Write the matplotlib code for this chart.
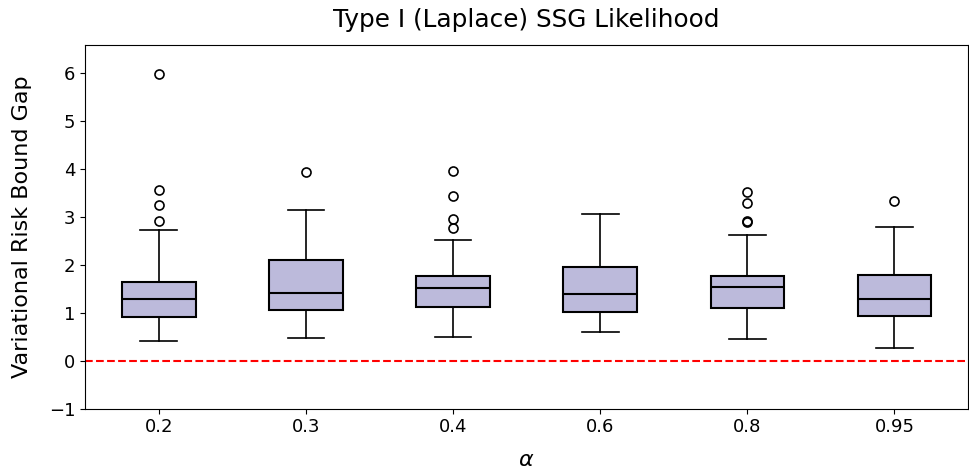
import matplotlib
matplotlib.use("Agg")
import matplotlib.pyplot as plt

# alpha levels on the x axis
alphas = ["0.2", "0.3", "0.4", "0.6", "0.8", "0.95"]

# five-number summaries of the risk bound gap for each alpha
whisker_low = [0.40, 0.48, 0.49, 0.60, 0.44, 0.26]
q1 = [0.90, 1.06, 1.12, 1.02, 1.10, 0.92]
median = [1.28, 1.41, 1.51, 1.38, 1.53, 1.28]
q3 = [1.64, 2.09, 1.76, 1.96, 1.77, 1.78]
whisker_high = [2.73, 3.14, 2.51, 3.05, 2.61, 2.78]

# points outside the whiskers
outliers = [
    [5.97, 3.56, 3.25, 2.92],
    [3.94],
    [3.96, 3.44, 2.96, 2.76],
    [],
    [3.52, 3.28, 2.90, 2.91],
    [3.32],
]

stats = []
for i, lab in enumerate(alphas):
    stats.append(dict(label=lab, whislo=whisker_low[i], q1=q1[i], med=median[i],
                      q3=q3[i], whishi=whisker_high[i], fliers=outliers[i]))

fig, ax = plt.subplots(figsize=(9.69, 4.75), dpi=100)
fig.subplots_adjust(left=0.088, right=0.999, top=0.905, bottom=0.14)

ax.bxp(stats, positions=range(1, len(alphas) + 1), widths=0.5, patch_artist=True,
       boxprops=dict(facecolor="#bcbadb", edgecolor="black", linewidth=1.5),
       medianprops=dict(color="black", linewidth=1.5),
       whiskerprops=dict(color="black", linewidth=1.2),
       capprops=dict(color="black", linewidth=1.2),
       flierprops=dict(marker="o", markerfacecolor="none", markeredgecolor="black",
                       markersize=6.5, markeredgewidth=1.2))

ax.axhline(0, color="red", linestyle="--", linewidth=1.5)

ax.set_xlim(0.5, len(alphas) + 0.5)
ax.set_ylim(-1, 6.58)
ax.set_yticks(range(-1, 7))
ax.tick_params(labelsize=13)
ax.set_title("Type I (Laplace) SSG Likelihood", fontsize=17.8, pad=13)
ax.set_ylabel("Variational Risk Bound Gap", fontsize=16, labelpad=12)
ax.set_xlabel(r"$\alpha$", fontsize=16, labelpad=10)

fig.savefig("out.png", dpi=100)
